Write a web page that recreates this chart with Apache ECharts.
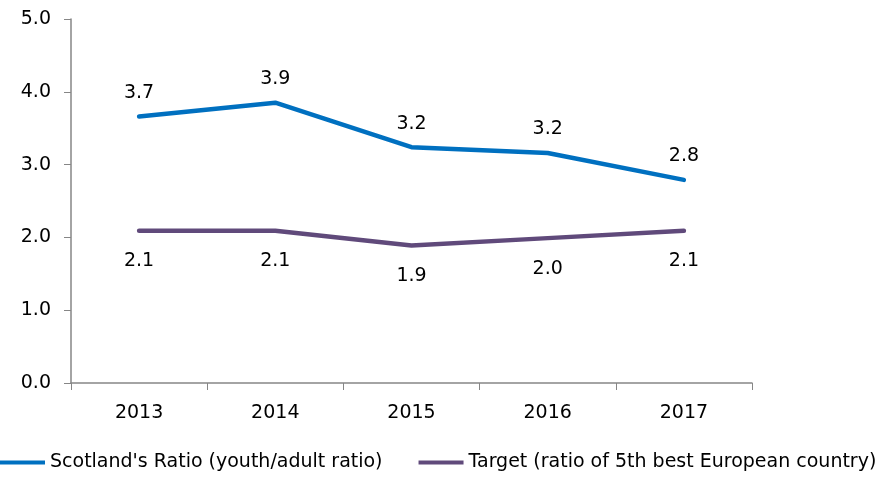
<!DOCTYPE html>
<html lang="en">
<head>
    <meta charset="UTF-8">
    <title>Youth/adult ratio</title>
    <script src="https://cdn.jsdelivr.net/npm/echarts@6/dist/echarts.min.js"></script>
</head>
<body style="margin:0;background:#fff;">
<div id="main" style="width:894px;height:480px;"></div>
<script>
	//年份
	var years = ['2013', '2014', '2015', '2016', '2017'];
	//Scotland's Ratio
	var scotlandRatio = [3.66, 3.85, 3.24, 3.16, 2.79];
	//Target
	var targetRatio = [2.09, 2.09, 1.89, 1.99, 2.09];

	var fontName = 'DejaVu Sans';
	var axisGray = '#868686';

	var myChart = echarts.init(document.getElementById('main'));

	var option = {
		animation: false,
		textStyle: { fontFamily: fontName },
		grid: { left: 71, right: 142, top: 19, bottom: 97 },
		legend: {
			left: 0,
			bottom: 8,
			padding: 0,
			itemWidth: 45,
			itemHeight: 4,
			itemGap: 36,
			icon: 'rect',
			textStyle: { fontSize: 19, color: '#000', fontFamily: fontName },
			data: ["Scotland's Ratio (youth/adult ratio)", 'Target (ratio of 5th best European country)']
		},
		xAxis: {
			type: 'category',
			data: years,
			boundaryGap: true,
			axisLine: { lineStyle: { color: axisGray, width: 1.5 } },
			axisTick: { show: true, length: 7, lineStyle: { color: axisGray } },
			axisLabel: { color: '#000', fontSize: 19, margin: 21 }
		},
		yAxis: {
			type: 'value',
			min: 0,
			max: 5,
			interval: 1,
			splitLine: { show: false },
			axisLine: { show: true, lineStyle: { color: axisGray, width: 1.5 } },
			axisTick: { show: true, inside: false, length: 7, lineStyle: { color: axisGray } },
			axisLabel: {
				color: '#000', fontSize: 19, margin: 20,
				formatter: function (v) { return v.toFixed(1); }
			}
		},
		series: [
			{
				name: "Scotland's Ratio (youth/adult ratio)",
				type: 'line',
				data: scotlandRatio,
				symbol: 'circle',
				symbolSize: 0,
				lineStyle: { color: '#0070C0', width: 4.5, cap: 'round' },
				itemStyle: { color: '#0070C0' },
				label: {
					show: true, position: 'top', distance: 14,
					color: '#000', fontSize: 19,
					formatter: function (p) { return p.value.toFixed(1); }
				}
			},
			{
				name: 'Target (ratio of 5th best European country)',
				type: 'line',
				data: targetRatio,
				symbol: 'circle',
				symbolSize: 0,
				lineStyle: { color: '#604A7B', width: 4.5, cap: 'round' },
				itemStyle: { color: '#604A7B' },
				label: {
					show: true, position: 'bottom', distance: 21,
					color: '#000', fontSize: 19,
					formatter: function (p) { return p.value.toFixed(1); }
				}
			}
		]
	};
	myChart.setOption(option);
</script>
</body>
</html>
